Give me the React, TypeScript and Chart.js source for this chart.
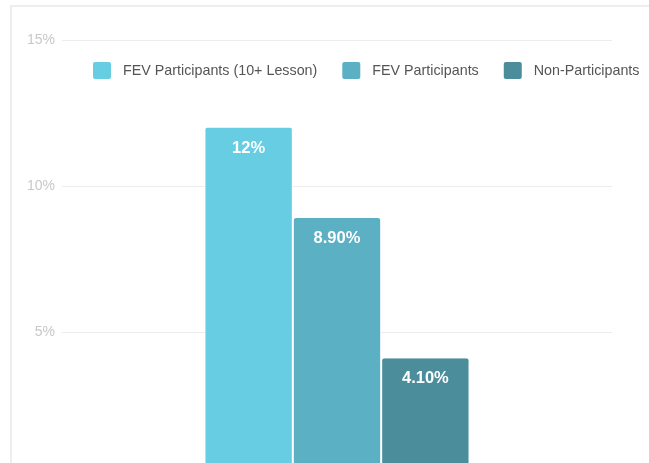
import React, { useEffect, useRef } from "react";
import { Chart, registerables } from "chart.js";

Chart.register(...registerables);

const categories = ["Rate"];
const seriesNames = ["FEV Participants (10+ Lesson)", "FEV Participants", "Non-Participants"];
const seriesValues = [[12], [8.9], [4.1]];
const valueLabels = ["12%", "8.90%", "4.10%"];
const seriesColors = ["#67cde3", "#5bb0c3", "#4b8d9b"];
const yTicks = [0, 5, 10, 15];

const FONT = "'Liberation Sans', Arial, sans-serif";

const legendPlugin = {
  id: "customLegend",
  afterDraw(chart: any) {
    const ctx = chart.ctx;
    ctx.save();
    ctx.font = `14.3px ${FONT}`;
    ctx.textBaseline = "middle";
    let x = 81;
    const y = 63;
    chart.data.datasets.forEach((ds: any) => {
      ctx.fillStyle = ds.backgroundColor;
      ctx.beginPath();
      (ctx as any).roundRect(x, y - 8, 18, 17, 2);
      ctx.fill();
      x += 30;
      ctx.fillStyle = "#555";
      ctx.fillText(ds.label, x, y + 1);
      x += ctx.measureText(ds.label).width + 25;
    });
    ctx.restore();
  },
};

const valueLabelPlugin = {
  id: "valueLabels",
  afterDatasetsDraw(chart: any) {
    const ctx = chart.ctx;
    ctx.save();
    ctx.font = `bold 16.5px ${FONT}`;
    ctx.fillStyle = "#ffffff";
    ctx.textAlign = "center";
    ctx.textBaseline = "alphabetic";
    chart.data.datasets.forEach((ds: any, i: number) => {
      const meta = chart.getDatasetMeta(i);
      meta.data.forEach((el: any) => {
        ctx.fillText(valueLabels[i], el.x, el.y + 25);
      });
    });
    ctx.restore();
  },
};

export default function App() {
  const ref = useRef<HTMLCanvasElement>(null);
  useEffect(() => {
    if (!ref.current) return;
    const chart = new Chart(ref.current, {
      type: "bar",
      data: {
        labels: categories,
        datasets: seriesNames.map((name, i) => ({
          label: name,
          data: seriesValues[i],
          backgroundColor: seriesColors[i],
          borderColor: "#ffffff",
          borderWidth: { left: 1, right: 1, top: 0, bottom: 0 },
          borderRadius: { topLeft: 3, topRight: 3, bottomLeft: 0, bottomRight: 0 },
          borderSkipped: "bottom",
          categoryPercentage: 0.482,
          barPercentage: 1,
        })),
      },
      options: {
        animation: false,
        responsive: false,
        maintainAspectRatio: false,
        layout: { padding: { top: 33, bottom: 49, right: 107, left: 0 } },
        plugins: {
          legend: { display: false },
          tooltip: { enabled: false },
        },
        scales: {
          x: { display: false },
          y: {
            min: 0,
            max: 15,
            afterFit(scale: any) {
              scale.width = 50;
            },
            afterBuildTicks(scale: any) {
              scale.ticks = yTicks.map((v) => ({ value: v }));
            },
            ticks: {
              padding: 7,
              color: "#c8c8c8",
              font: { family: FONT, size: 14 },
              callback: (v: any) => (v === 0 ? "" : v + "%"),
            },
            grid: { color: "#ececec", drawTicks: false, lineWidth: 1 },
            border: { display: false },
          },
        },
      },
      plugins: [legendPlugin, valueLabelPlugin],
    } as any);
    return () => chart.destroy();
  }, []);

  return (
    <div style={{ position: "fixed", left: 0, top: 0, width: 649, height: 463, overflow: "hidden", background: "#fff" }}>
      <div
        style={{
          position: "absolute",
          left: 10,
          top: 5,
          width: 800,
          height: 600,
          border: "2px solid #eeeeee",
          boxSizing: "border-box",
        }}
      />
      <canvas
        ref={ref}
        width={707}
        height={520}
        style={{ position: "absolute", left: 12, top: 7, width: 707, height: 520 }}
      />
    </div>
  );
}
